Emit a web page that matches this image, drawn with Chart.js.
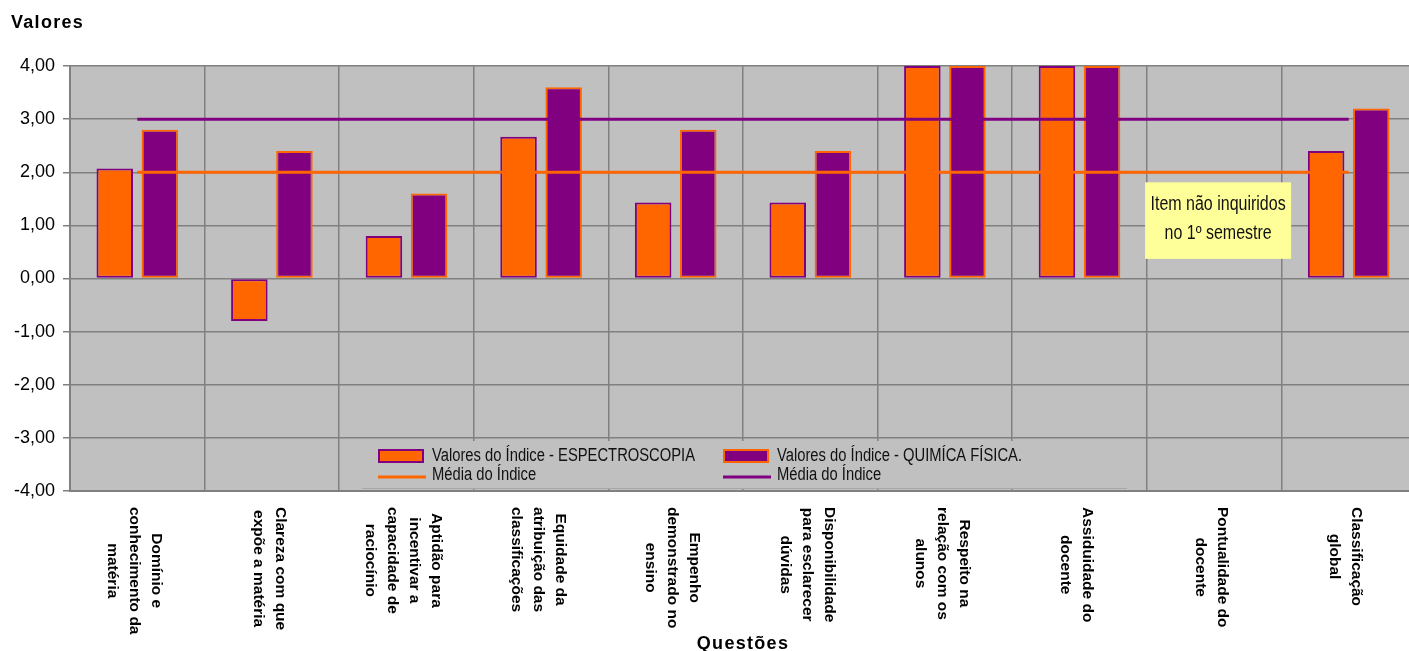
<!DOCTYPE html>
<html>
<head>
<meta charset="utf-8">
<script src="https://cdn.jsdelivr.net/npm/chart.js@4.4.1/dist/chart.umd.min.js"></script>
<style>
	html, body { margin: 0; padding: 0; background: #fff; overflow: hidden; }
	#wrap { width: 1416px; height: 651px; }
</style>
</head>
<body>
<div id="wrap"><canvas id="chart" width="1416" height="651"></canvas></div>
<script>
/* ==========================================================================
 Data
 ========================================================================== */

const questoes = [
	['Domínio e', 'conhecimento da', 'matéria'],
	['Clareza com que', 'expõe a matéria'],
	['Aptidão para', 'incentivar a', 'capacidade de', 'raciocínio'],
	['Equidade da', 'atribuição das', 'classificações'],
	['Empenho', 'demonstrado no', 'ensino'],
	['Disponibilidade', 'para esclarecer', 'dúvidas'],
	['Respeito na', 'relação com os', 'alunos'],
	['Assiduidade do', 'docente'],
	['Pontualidade do', 'docente'],
	['Classificação', 'global'],
];
const espectroscopia = [2.07, -0.8, 0.8, 2.67, 1.43, 1.43, 4, 4, null, 2.4];
const quimicaFisica = [2.8, 2.4, 1.6, 3.6, 2.8, 2.4, 4, 4, null, 3.2];
const mediaEspectro = [2, 2, 2, 2, 2, 2, 2, 2, 2, 2];
const mediaQuimica = [3, 3, 3, 3, 3, 3, 3, 3, 3, 3];
const yTicks = [-4, -3, -2, -1, 0, 1, 2, 3, 4];

const ORANGE = '#FF6600';
const PURPLE = '#800080';
const GRID = '#808080';
const FONT = '"Liberation Sans", Arial, sans-serif';

/* ==========================================================================
 Helpers
 ========================================================================== */

// Arial Narrow look: regular Arial squeezed horizontally
function narrowText(ctx, text, x, y, size, align) {
	ctx.save();
	ctx.font = size + 'px ' + FONT;
	ctx.fillStyle = '#111';
	ctx.textAlign = align;
	ctx.textBaseline = 'middle';
	ctx.translate(x, y);
	ctx.scale(0.82, 1);
	ctx.fillText(text, 0, 0);
	ctx.restore();
}

/* ==========================================================================
 Plugins
 ========================================================================== */

const plotBackground = {
	id: 'plotBackground',
	beforeDraw(chart) {
		const {ctx, chartArea: a} = chart;
		ctx.save();
		ctx.fillStyle = '#C0C0C0';
		ctx.fillRect(a.left, a.top, a.right - a.left, a.bottom - a.top);
		ctx.restore();
	}
};

const decorations = {
	id: 'decorations',
	afterDatasetsDraw(chart) {
		const {ctx, chartArea: a, scales} = chart;
		const x = scales.x;
		const y = scales.y;

		// Note box over the empty category
		const cx = x.getPixelForValue(8);
		const boxTop = y.getPixelForValue(1.81);
		const boxBottom = y.getPixelForValue(0.37);
		ctx.save();
		ctx.fillStyle = '#FFFF99';
		ctx.fillRect(cx - 69, boxTop, 146, boxBottom - boxTop);
		ctx.restore();
		const mid = (boxTop + boxBottom) / 2;
		narrowText(ctx, 'Item não inquiridos', cx + 4, mid - 16, 19.5, 'center');
		narrowText(ctx, 'no 1º semestre', cx + 4, mid + 13, 19.5, 'center');

		// Legend box inside plot area
		const top = a.bottom - 50;
		ctx.save();
		ctx.fillStyle = '#C0C0C0';
		ctx.fillRect(362, top, 765, 48);
		ctx.fillStyle = '#A8A8A8';
		ctx.fillRect(362, a.bottom - 3, 765, 1);

		const cols = [
			{x: 378, fill: ORANGE, edge: PURPLE, label: 'Valores do Índice - ESPECTROSCOPIA'},
			{x: 723, fill: PURPLE, edge: ORANGE, label: 'Valores do Índice - QUIMÍCA FÍSICA.'},
		];
		cols.forEach(c => {
			ctx.fillStyle = c.fill;
			ctx.fillRect(c.x, top + 8, 46, 14);
			ctx.strokeStyle = c.edge;
			ctx.lineWidth = 2;
			ctx.strokeRect(c.x + 1, top + 9, 44, 12);
			ctx.strokeStyle = c.fill;
			ctx.lineWidth = 3;
			ctx.beginPath();
			ctx.moveTo(c.x, top + 36);
			ctx.lineTo(c.x + 48, top + 36);
			ctx.stroke();
			narrowText(ctx, c.label, c.x + 54, top + 15, 18, 'left');
			narrowText(ctx, 'Média do Índice', c.x + 54, top + 34, 18, 'left');
		});
		ctx.restore();
	},
	afterDraw(chart) {
		const {ctx, chartArea: a, scales} = chart;
		const x = scales.x;

		// Rotated category labels (clockwise, first line on the right)
		ctx.save();
		ctx.font = 'bold 15.5px ' + FONT;
		ctx.fillStyle = '#000';
		ctx.textBaseline = 'middle';
		ctx.textAlign = 'center';
		questoes.forEach((lines, i) => {
			const cx = x.getPixelForValue(i) - 3;
			const widest = Math.max(...lines.map(l => ctx.measureText(l).width));
			ctx.save();
			ctx.translate(cx, a.bottom + 16);
			ctx.rotate(Math.PI / 2);
			lines.forEach((l, k) => {
				ctx.fillText(l, widest / 2, (k - (lines.length - 1) / 2) * 22);
			});
			ctx.restore();
		});
		ctx.restore();

		// Axis titles
		ctx.save();
		ctx.font = 'bold 18px ' + FONT;
		ctx.fillStyle = '#000';
		ctx.letterSpacing = '1.3px';
		ctx.textBaseline = 'alphabetic';
		ctx.textAlign = 'left';
		ctx.fillText('Valores', 11, 28);
		ctx.textAlign = 'center';
		ctx.fillText('Questões', (a.left + a.right) / 2, 649);
		ctx.restore();
	}
};

/* ==========================================================================
 Config
 ========================================================================== */

const config = {
	type: 'bar',
	data: {
		labels: questoes,
		datasets: [
			{
				type: 'line',
				label: 'Média do Índice',
				data: mediaEspectro,
				borderColor: ORANGE,
				borderWidth: 3,
				pointRadius: 0,
				fill: false,
				order: 0,
			},
			{
				type: 'line',
				label: 'Média do Índice',
				data: mediaQuimica,
				borderColor: PURPLE,
				borderWidth: 3,
				pointRadius: 0,
				fill: false,
				order: 0,
			},
			{
				label: 'Valores do Índice - ESPECTROSCOPIA',
				data: espectroscopia,
				backgroundColor: ORANGE,
				borderColor: PURPLE,
				borderWidth: 2,
				borderSkipped: false,
				order: 1,
			},
			{
				label: 'Valores do Índice - QUIMÍCA FÍSICA.',
				data: quimicaFisica,
				backgroundColor: PURPLE,
				borderColor: ORANGE,
				borderWidth: 2,
				borderSkipped: false,
				order: 1,
			},
		],
	},
	options: {
		responsive: false,
		animation: false,
		datasets: {
			bar: {
				categoryPercentage: 0.67,
				barPercentage: 0.81,
			},
		},
		layout: {
			padding: {top: 66, left: 0, right: 0, bottom: 0},
		},
		scales: {
			x: {
				ticks: {display: false},
				grid: {color: GRID, lineWidth: 1.5, drawTicks: false},
				border: {color: GRID, width: 2},
				afterFit(scale) {
					scale.height = 160;
				},
			},
			y: {
				min: -4,
				max: 4,
				afterBuildTicks(scale) {
					scale.ticks = yTicks.map(v => ({value: v}));
				},
				ticks: {
					color: '#000',
					padding: 8,
					font: {size: 18, family: FONT},
					callback: v => v.toFixed(2).replace('.', ','),
				},
				grid: {color: GRID, lineWidth: 1.5, tickLength: 7, tickColor: GRID},
				border: {color: GRID, width: 2},
				afterFit(scale) {
					scale.width = 70;
				},
			},
		},
		plugins: {
			legend: {display: false},
			tooltip: {enabled: false},
		},
	},
	plugins: [plotBackground, decorations],
};

new Chart(document.getElementById('chart'), config);
</script>
</body>
</html>
